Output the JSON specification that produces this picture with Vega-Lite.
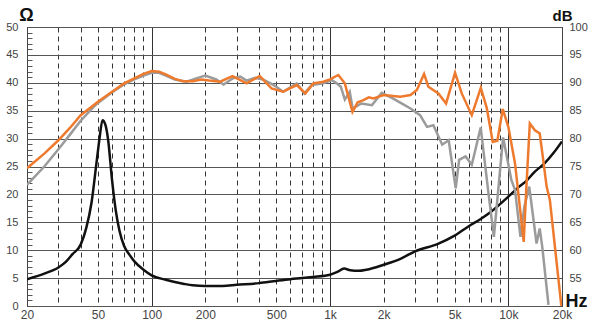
{
  "$schema": "https://vega.github.io/schema/vega-lite/v6.json",
  "width": 535,
  "height": 279,
  "autosize": "none",
  "padding": {"left": 27, "top": 27, "right": 38, "bottom": 28},
  "background": "white",
  "config": {
    "view": {"stroke": "#444", "strokeWidth": 1},
    "axis": {"labelFont": "Liberation Sans", "labelFontSize": 11, "labelColor": "#444", "titleFont": "Liberation Sans", "titleColor": "#111"}
  },
  "datasets": {
    "imp": [
      {"f":20,"z":4.8},{"f":25,"z":5.8},{"f":30,"z":6.9},{"f":33,"z":7.9},{"f":36,"z":9.3},{"f":40,"z":11.0},
      {"f":43,"z":14.0},{"f":46,"z":18.5},{"f":49,"z":25.5},{"f":51,"z":30.0},{"f":53,"z":33.3},{"f":55,"z":32.5},
      {"f":57,"z":29.8},{"f":60,"z":22.5},{"f":63,"z":17.0},{"f":66,"z":13.5},{"f":70,"z":10.8},{"f":75,"z":9.2},
      {"f":80,"z":8.0},{"f":90,"z":6.5},{"f":100,"z":5.5},{"f":120,"z":4.7},{"f":150,"z":4.0},{"f":170,"z":3.7},
      {"f":200,"z":3.6},{"f":250,"z":3.6},{"f":300,"z":3.8},{"f":400,"z":4.1},{"f":500,"z":4.5},{"f":600,"z":4.8},
      {"f":700,"z":5.0},{"f":800,"z":5.2},{"f":1000,"z":5.6},{"f":1100,"z":6.1},{"f":1200,"z":6.7},{"f":1300,"z":6.4},
      {"f":1450,"z":6.3},{"f":1600,"z":6.5},{"f":2000,"z":7.4},{"f":2500,"z":8.5},{"f":3000,"z":9.8},{"f":4000,"z":11.1},
      {"f":5000,"z":12.6},{"f":6000,"z":14.3},{"f":7000,"z":15.6},{"f":8000,"z":16.9},{"f":10000,"z":19.6},
      {"f":11500,"z":21.4},{"f":12500,"z":22.3},{"f":14000,"z":24.0},{"f":16000,"z":25.6},{"f":18000,"z":27.5},{"f":20000,"z":29.5}
    ],
    "gray": [
      {"f":20,"db":71.7},{"f":25,"db":75.0},{"f":30,"db":78.1},{"f":35,"db":80.8},{"f":40,"db":83.2},{"f":47,"db":85.6},
      {"f":50,"db":86.4},{"f":60,"db":88.3},{"f":70,"db":89.7},{"f":80,"db":90.6},{"f":90,"db":91.3},{"f":100,"db":91.8},
      {"f":110,"db":91.8},{"f":120,"db":91.3},{"f":135,"db":90.6},{"f":157,"db":90.2},{"f":178,"db":90.8},{"f":200,"db":91.3},
      {"f":230,"db":90.6},{"f":253,"db":89.7},{"f":285,"db":90.8},{"f":314,"db":91.1},{"f":341,"db":90.4},{"f":380,"db":90.9},
      {"f":420,"db":90.6},{"f":470,"db":89.8},{"f":500,"db":89.3},{"f":546,"db":88.4},{"f":651,"db":89.9},{"f":719,"db":88.1},
      {"f":790,"db":89.6},{"f":918,"db":89.9},{"f":1020,"db":90.5},{"f":1090,"db":89.9},{"f":1150,"db":89.3},{"f":1211,"db":87.0},
      {"f":1290,"db":88.4},{"f":1340,"db":85.4},{"f":1500,"db":86.3},{"f":1720,"db":86.0},{"f":1950,"db":88.2},{"f":2250,"db":87.2},
      {"f":2520,"db":86.3},{"f":2828,"db":85.4},{"f":3200,"db":84.2},{"f":3500,"db":82.1},{"f":3800,"db":82.4},{"f":4260,"db":78.9},
      {"f":4630,"db":79.7},{"f":5070,"db":71.1},{"f":5300,"db":76.2},{"f":5760,"db":76.8},{"f":6240,"db":75.3},{"f":7000,"db":82.0},
      {"f":7700,"db":70.8},{"f":8300,"db":62.4},{"f":9350,"db":80.2},{"f":10400,"db":72.6},{"f":10900,"db":70.8},{"f":11700,"db":62.4},
      {"f":12300,"db":67.8},{"f":13100,"db":71.4},{"f":14400,"db":61.2},{"f":15000,"db":63.9},{"f":15500,"db":60.6},{"f":16800,"db":50.2}
    ],
    "orange": [
      {"f":20,"db":74.7},{"f":25,"db":77.3},{"f":30,"db":79.7},{"f":35,"db":82.0},{"f":40,"db":84.2},{"f":50,"db":86.6},
      {"f":60,"db":88.4},{"f":70,"db":89.9},{"f":80,"db":90.8},{"f":90,"db":91.6},{"f":100,"db":92.1},{"f":110,"db":92.0},
      {"f":120,"db":91.5},{"f":135,"db":90.7},{"f":150,"db":90.3},{"f":170,"db":90.3},{"f":190,"db":90.6},{"f":210,"db":90.4},
      {"f":242,"db":90.2},{"f":284,"db":91.2},{"f":341,"db":89.9},{"f":404,"db":91.2},{"f":470,"db":89.0},{"f":546,"db":88.4},
      {"f":651,"db":89.6},{"f":728,"db":88.1},{"f":808,"db":89.9},{"f":918,"db":90.2},{"f":1000,"db":90.6},{"f":1114,"db":91.4},
      {"f":1211,"db":89.9},{"f":1337,"db":84.8},{"f":1430,"db":86.5},{"f":1540,"db":86.9},{"f":1650,"db":87.4},{"f":1753,"db":87.2},
      {"f":1997,"db":87.8},{"f":2480,"db":87.5},{"f":2828,"db":87.8},{"f":3071,"db":88.7},{"f":3370,"db":91.6},{"f":3562,"db":89.3},
      {"f":4054,"db":88.1},{"f":4478,"db":86.3},{"f":5030,"db":91.8},{"f":5480,"db":88.1},{"f":6240,"db":84.2},{"f":7008,"db":89.1},
      {"f":7570,"db":85.5},{"f":8180,"db":79.4},{"f":8680,"db":79.6},{"f":9310,"db":85.3},{"f":10000,"db":82.1},{"f":10900,"db":75.6},
      {"f":12200,"db":61.5},{"f":12600,"db":70.8},{"f":13200,"db":82.7},{"f":14100,"db":81.5},{"f":15000,"db":80.9},{"f":15600,"db":76.8},
      {"f":16400,"db":71.4},{"f":17100,"db":69.0},{"f":19800,"db":50.2},{"f":20000,"db":50.0}
    ]
  },
  "layer": [
    {
      "data": {"name": "imp"},
      "mark": {"type": "line", "color": "#111", "strokeWidth": 2.5, "interpolate": "monotone", "clip": true},
      "encoding": {
        "x": {
          "field": "f", "type": "quantitative",
          "scale": {"type": "log", "domain": [20, 20000], "nice": false},
          "axis": {
            "values": [20,30,40,50,60,70,80,90,100,200,300,400,500,600,700,800,900,1000,2000,3000,4000,5000,6000,7000,8000,9000,10000,20000],
            "grid": true, "gridColor": "#333", "gridWidth": 1,
            "gridDash": {"condition": {"test": "indexof([20,100,1000,10000,20000], datum.value) >= 0", "value": []}, "value": [5, 4]},
            "ticks": false, "domain": false,
            "labelExpr": "indexof([20,50,100,200,500,1000,2000,5000,10000,20000], datum.value) >= 0 ? (datum.value >= 1000 ? (datum.value/1000) + 'k' : datum.value + '') : ''",
            "labelFontSize": 12, "labelPadding": 3, "labelFlush": false, "labelOverlap": false, "labelBound": false,
            "title": "Hz", "titleFontSize": 18, "titleFontWeight": "bold",
            "titleX": 549, "titleY": 0, "titleAlign": "center", "titleBaseline": "alphabetic", "titleAnchor": null
          }
        },
        "y": {
          "field": "z", "type": "quantitative",
          "scale": {"domain": [0, 50], "nice": false},
          "axis": {
            "orient": "left",
            "values": [0,1,2,3,4,5,6,7,8,9,10,11,12,13,14,15,16,17,18,19,20,21,22,23,24,25,26,27,28,29,30,31,32,33,34,35,36,37,38,39,40,41,42,43,44,45,46,47,48,49,50],
            "grid": true, "gridColor": "#555", "gridWidth": 1.2,
            "gridOpacity": {"condition": {"test": "datum.value % 5 === 0", "value": 1}, "value": 0},
            "tickSize": {"condition": {"test": "datum.value % 5 === 0", "value": 0}, "value": -5},
            "tickColor": "#555",
            "labelExpr": "datum.value % 5 === 0 ? datum.label : ''",
            "labelPadding": 9, "labelBound": false, "labelFlush": false, "labelOverlap": false,
            "domain": true, "domainColor": "#444",
            "title": "Ω", "titleAngle": 0, "titleX": -1, "titleY": -7, "titleAlign": "center", "titleBaseline": "alphabetic",
            "titleFontSize": 18, "titleFontWeight": "bold"
          }
        }
      }
    },
    {
      "layer": [
        {
          "data": {"name": "gray"},
          "mark": {"type": "line", "color": "#9b9b9b", "strokeWidth": 2.5, "clip": true},
          "encoding": {
            "x": {"field": "f", "type": "quantitative", "scale": {"type": "log", "domain": [20, 20000], "nice": false}},
            "y": {
              "field": "db", "type": "quantitative",
              "scale": {"domain": [50, 100], "nice": false},
              "axis": {
                "orient": "right", "values": [55,60,65,70,75,80,85,90,95,100],
                "grid": false, "ticks": false, "domain": true, "domainColor": "#444",
                "labelPadding": 7, "labelBound": false, "labelFlush": false, "labelOverlap": false,
                "title": "dB", "titleAngle": 0, "titleX": 0, "titleY": -7, "titleAlign": "center", "titleBaseline": "alphabetic",
                "titleFontSize": 15, "titleFontWeight": "bold"
              }
            }
          }
        },
        {
          "data": {"name": "orange"},
          "mark": {"type": "line", "color": "#ee7a2e", "strokeWidth": 2.5, "clip": true},
          "encoding": {
            "x": {"field": "f", "type": "quantitative", "scale": {"type": "log", "domain": [20, 20000], "nice": false}},
            "y": {
              "field": "db", "type": "quantitative",
              "scale": {"domain": [50, 100], "nice": false},
              "axis": {
                "orient": "right", "values": [55,60,65,70,75,80,85,90,95,100],
                "grid": false, "ticks": false, "domain": true, "domainColor": "#444",
                "labelPadding": 7, "labelBound": false, "labelFlush": false, "labelOverlap": false,
                "title": "dB", "titleAngle": 0, "titleX": 0, "titleY": -7, "titleAlign": "center", "titleBaseline": "alphabetic",
                "titleFontSize": 15, "titleFontWeight": "bold"
              }
            }
          }
        }
      ]
    }
  ],
  "resolve": {"scale": {"y": "independent"}, "axis": {"y": "independent"}}
}
